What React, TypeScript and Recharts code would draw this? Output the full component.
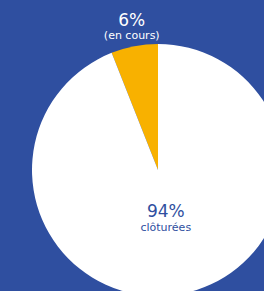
import React from "react";
import { PieChart, Pie, Cell } from "recharts";

const categories = ["en cours", "clôturées"];
const values = [6, 94];
const percentLabels = ["6%", "94%"];
const subLabels = ["(en cours)", "clôturées"];
const colors = ["#F8B100", "#FFFFFF"];

const BG = "#2F4FA0";
const FONT = "'DejaVu Sans', sans-serif";
const data = categories.map((c, i) => ({ name: c, value: values[i] }));
const RAD = Math.PI / 180;

const renderLabel = (props: any) => {
  const { cx, cy, midAngle, outerRadius, index } = props;
  const outside = index === 0;
  const r = outside ? outerRadius + 14 : outerRadius * 0.33;
  const x = cx + r * Math.cos(-midAngle * RAD);
  const y = cy + r * Math.sin(-midAngle * RAD);
  const fill = outside ? "#FFFFFF" : BG;
  return (
    <g>
      <text x={x} y={outside ? y - 6 : y + 6.5} textAnchor="middle" fill={fill} fontSize={17} fontFamily={FONT}>
        {percentLabels[index]}
      </text>
      <text x={x} y={outside ? y + 6.5 : y + 20.5} textAnchor="middle" fill={fill} fontSize={11} fontFamily={FONT}>
        {subLabels[index]}
      </text>
    </g>
  );
};

export default function App() {
  return (
    <div style={{ position: "absolute", left: 0, top: 0, width: 264, height: 291, background: BG, overflow: "hidden" }}>
      <PieChart width={264} height={291} margin={{ top: 0, right: 0, bottom: 0, left: 0 }}>
        <Pie
          data={data}
          dataKey="value"
          cx={158}
          cy={170}
          outerRadius={126}
          startAngle={90}
          endAngle={450}
          stroke="none"
          label={renderLabel}
          labelLine={false}
          isAnimationActive={false}
        >
          {data.map((d, i) => (
            <Cell key={d.name} fill={colors[i]} />
          ))}
        </Pie>
      </PieChart>
    </div>
  );
}
